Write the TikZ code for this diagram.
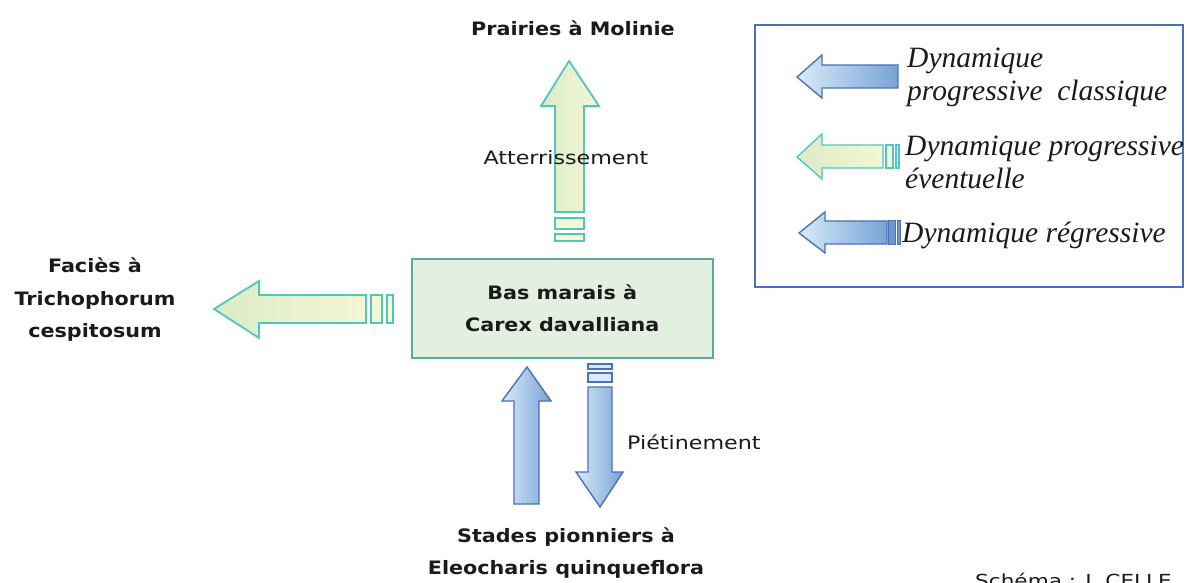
\documentclass[tikz,border=0pt]{standalone}
\usepackage{fontspec}
\setmainfont{Liberation Serif}
\newfontfamily\labfont[FakeStretch=1.12]{DejaVu Sans}
\newfontfamily\labnfont[FakeStretch=1.2]{DejaVu Sans}
\definecolor{tealedge}{HTML}{4FC6C2}
\definecolor{gleft}{HTML}{DCEBC6}
\definecolor{gright}{HTML}{F4F6D4}
\definecolor{blueedge}{HTML}{4A72B8}
\definecolor{bleft}{HTML}{D8EAF8}
\definecolor{bright}{HTML}{78A3D6}
\definecolor{boxfill}{HTML}{E3EFDF}
\definecolor{boxedge}{HTML}{5BAA9C}
\definecolor{legedge}{HTML}{4A6FC0}
\definecolor{bardark}{HTML}{6F95CF}
\definecolor{txt}{HTML}{1A1A1A}
\begin{document}
\begin{tikzpicture}[x=1pt,y=-1pt,
  greenarrow/.style={draw=tealedge,line width=1.8pt,line join=miter,left color=gleft,right color=gright},
  bluearrow/.style={draw=blueedge,line width=1.4pt,line join=miter,left color=bleft,right color=bright},
  greenbar/.style={draw=tealedge,line width=1.6pt,fill=gright},
  bluebar/.style={draw=blueedge,line width=1.3pt,fill=bleft},
  bluebardark/.style={draw=blueedge,line width=1pt,fill=bardark},
  lab/.style={text=txt,font=\labfont\bfseries\fontsize{18.5}{32.5}\selectfont,align=center,inner sep=0pt},
  labn/.style={text=txt,font=\labnfont\fontsize{18.5}{20}\selectfont,inner sep=0pt},
  leg/.style={text=txt,font=\itshape\fontsize{29.5}{33}\selectfont,align=left,inner sep=0pt,anchor=west}]
\useasboundingbox (0,0) rectangle (1187,583);
% main box
\node[draw=boxedge,line width=1.5pt,fill=boxfill,minimum width=301pt,minimum height=99pt,inner sep=0pt,anchor=north west] (box) at (411,258) {};
\node[lab] (boxtxt) at (box.center) {Bas marais à\\Carex davalliana};
% up arrow (Atterrissement)
\path[greenarrow] (569,61) -- (599,106) -- (584,106) -- (584,212) -- (555,212) -- (555,106) -- (541,106) -- cycle;
\draw[greenbar] (555,218) rectangle (584,229);
\draw[greenbar] (555,234) rectangle (584,241);
% left arrow (Facies)
\path[greenarrow] (214,309) -- (259,281) -- (259,295) -- (366,295) -- (366,323) -- (259,323) -- (259,338) -- cycle;
\draw[greenbar] (371,295) rectangle (382,323);
\draw[greenbar] (387,295) rectangle (393,323);
% bottom up arrow
\path[bluearrow] (527,367) -- (551,401) -- (539,401) -- (539,504) -- (514,504) -- (514,401) -- (502,401) -- cycle;
% bottom down arrow
\draw[bluebar] (588,364) rectangle (612,369);
\draw[bluebar] (588,373) rectangle (612,382);
\path[bluearrow] (600,507) -- (623,472) -- (612,472) -- (612,387) -- (588,387) -- (588,472) -- (576,472) -- cycle;
% labels
\node[lab] (prairies) at (573,28) {Prairies à Molinie};
\node[labn] (atter) at (566,158) {Atterrissement};
\node[lab] (facies) at (95,300) {Faciès à\\Trichophorum\\cespitosum};
\node[labn,anchor=west] (pietin) at (627,442) {Piétinement};
\node[lab] (stades) at (566,553) {Stades pionniers à\\Eleocharis quinqueflora};
\node[text=txt,font=\labnfont\fontsize{18}{20}\selectfont,inner sep=0pt,anchor=north west] (credit) at (975,573) {Schéma : J. CELLE};
% legend
\draw[legedge,line width=1.4pt] (755,25) rectangle (1183,287);
\path[bluearrow] (797,77) -- (822,55) -- (822,65) -- (898,65) -- (898,88) -- (822,88) -- (822,98) -- cycle;
\path[greenarrow,line width=1.4pt] (797,157) -- (822,134) -- (822,145) -- (883,145) -- (883,168) -- (822,168) -- (822,179) -- cycle;
\draw[greenbar,line width=1.2pt] (886,145) rectangle (893,168);
\draw[greenbar,line width=1.2pt] (896,145) rectangle (899,168);
\path[bluearrow] (799,233) -- (825,212) -- (825,221) -- (887,221) -- (887,244) -- (825,244) -- (825,253) -- cycle;
\draw[bluebardark] (888,221) rectangle (895,244);
\draw[bluebardark] (897,221) rectangle (900,244);
\node[leg] (leg1) at (907,77) {Dynamique\\progressive\ \ classique};
\node[leg] (leg2) at (905,162) {Dynamique progressive\\éventuelle};
\node[leg] (leg3) at (902,235) {Dynamique régressive};
\end{tikzpicture}
\end{document}
